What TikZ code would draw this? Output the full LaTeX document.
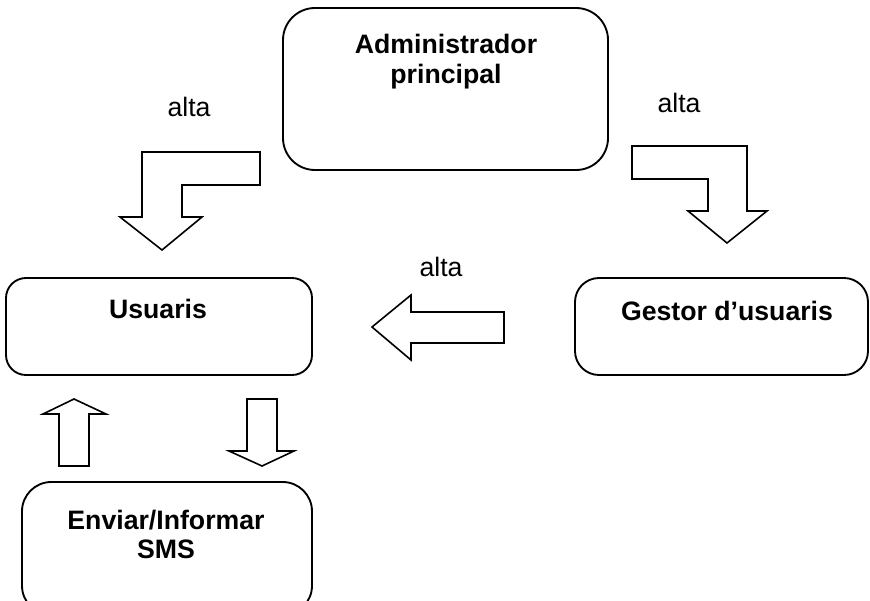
\documentclass[tikz,border=0pt]{standalone}
\usepackage{fontspec}
\setmainfont{Liberation Sans}
\begin{document}
\begin{tikzpicture}[x=0.75pt,y=-0.75pt,
  box/.style={draw=black,line width=1.4pt,fill=white,inner sep=0pt},
  title/.style={font=\fontsize{20}{23}\selectfont\bfseries,anchor=base,inner sep=0pt},
  tag/.style={font=\fontsize{20}{23}\selectfont,anchor=base,inner sep=0pt},
  blockarrow/.style={draw=black,line width=1.2pt,fill=white,line join=miter}]
\useasboundingbox (0,0) rectangle (870,600);
\clip (0,0) rectangle (870,600);

% rounded boxes
\node[box,rounded corners=24pt,minimum width=243.75pt,minimum height=121.5pt] (admin) at (445.5,89) {};
\node[box,rounded corners=15pt,minimum width=229.5pt,minimum height=72.75pt] (usuaris) at (159,326.5) {};
\node[box,rounded corners=18pt,minimum width=219.75pt,minimum height=72.75pt] (gestor) at (721.5,326.5) {};
\node[box,rounded corners=22pt,minimum width=217.5pt,minimum height=99.75pt] (sms) at (167,548.5) {};

% box titles
\node[title] (admintxt) at (446,53) {Administrador};
\node[title] (admintxtb) at (446,83) {principal};
\node[title] (usuaristxt) at (158,318) {Usuaris};
\node[title] (gestortxt) at (727,320) {Gestor d’usuaris};
\node[title] (smstxt) at (166,529) {Enviar/Informar};
\node[title] (smstxtb) at (166,558) {SMS};

% labels
\node[tag] (alta1) at (189,116) {alta};
\node[tag] (alta2) at (679,112) {alta};
\node[tag] (alta3) at (441,276) {alta};

% block arrows
\draw[blockarrow] (142,152) -- (260,152) -- (260,185) -- (182,185) -- (182,217)
  -- (202,217) -- (162,250) -- (120,217) -- (142,217) -- cycle;
\draw[blockarrow] (632,146) -- (747,146) -- (747,211) -- (767,211) -- (727,243)
  -- (688,211) -- (708,211) -- (708,179) -- (632,179) -- cycle;
\draw[blockarrow] (372,327) -- (411,295) -- (411,312) -- (504,312) -- (504,343)
  -- (411,343) -- (411,360) -- cycle;
\draw[blockarrow] (74,399) -- (106,414) -- (89,414) -- (89,466) -- (59,466)
  -- (59,414) -- (43,414) -- cycle;
\draw[blockarrow] (247,399) -- (277,399) -- (277,451) -- (294,451) -- (262,466)
  -- (229,451) -- (247,451) -- cycle;
\end{tikzpicture}
\end{document}
